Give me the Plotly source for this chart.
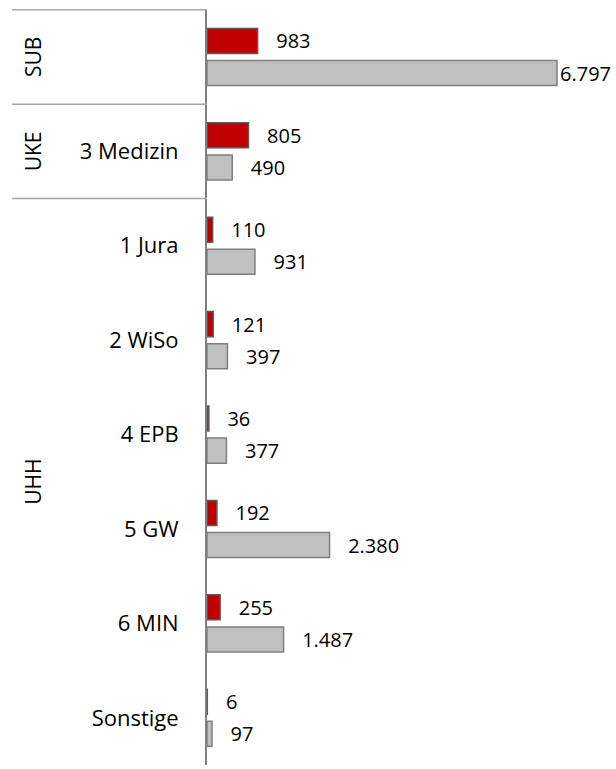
import plotly.graph_objects as go

groups = ["SUB", "UKE", "UHH", "UHH", "UHH", "UHH", "UHH", "UHH"]
categories = [" ", "3 Medizin", "1 Jura", "2 WiSo", "4 EPB", "5 GW", "6 MIN", "Sonstige"]
red_values = [983, 805, 110, 121, 36, 192, 255, 6]
grey_values = [6797, 490, 931, 397, 377, 2380, 1487, 97]

FONT = "Open Sans"
W, H = 616, 769
L, R, T, B = 207, 0, 9, 4
plot_w = W - L - R
max_val = max(red_values + grey_values)
bar_end_px = 350  # pixel length of the longest bar
x_max = max_val * plot_w / bar_end_px


def fmt(v):
    s = f"{v:,}".replace(",", ".")
    pad = "" if v == max_val else "\u00a0\u00a0\u00a0"
    return pad + s


fig = go.Figure()
fig.add_trace(go.Bar(
    y=categories, x=red_values, orientation="h",
    marker=dict(color="#C00000", line=dict(color="#595959", width=1.5)),
    text=[fmt(v) for v in red_values], textposition="outside", constraintext="none",
    textfont=dict(family=FONT, size=20, color="#000000"),
    cliponaxis=False, showlegend=False,
))
fig.add_trace(go.Bar(
    y=categories, x=grey_values, orientation="h",
    marker=dict(color="#C0C0C0", line=dict(color="#7F7F7F", width=1.5)),
    text=[fmt(v) for v in grey_values], textposition="outside", constraintext="none",
    textfont=dict(family=FONT, size=20, color="#000000"),
    cliponaxis=False, showlegend=False,
))

# group labels and dividers
annotations = []
shapes = []
left_paper = (12 - L) / plot_w
label_paper = (33 - L) / plot_w
seen = []
for i, g in enumerate(groups):
    if g not in seen:
        seen.append(g)
        shapes.append(dict(type="line", xref="paper", yref="y",
                           x0=left_paper, x1=0, y0=i - 0.5, y1=i - 0.5,
                           line=dict(color="#A6A6A6", width=1.5)))
for g in seen:
    idx = [i for i, gg in enumerate(groups) if gg == g]
    annotations.append(dict(text=g, xref="paper", yref="y",
                            x=label_paper, y=(idx[0] + idx[-1]) / 2,
                            xanchor="center", yanchor="middle",
                            textangle=-90, showarrow=False,
                            font=dict(family=FONT, size=21, color="#000000")))

fig.update_layout(
    width=W, height=H,
    margin=dict(l=L, r=R, t=T, b=B),
    barmode="group", bargap=0.32, bargroupgap=0.22,
    plot_bgcolor="white", paper_bgcolor="white",
    xaxis=dict(range=[0, x_max], visible=False),
    yaxis=dict(type="category", categoryarray=categories, categoryorder="array",
               autorange="reversed", showline=True, linecolor="#808080", linewidth=2,
               showgrid=False, ticks="", ticklabelstandoff=22,
               tickfont=dict(family=FONT, size=22, color="#000000")),
    annotations=annotations, shapes=shapes,
)

fig.write_html("out.html", config={"displayModeBar": False},
               post_script="document.body.style.margin='0';document.body.style.overflow='hidden';")
